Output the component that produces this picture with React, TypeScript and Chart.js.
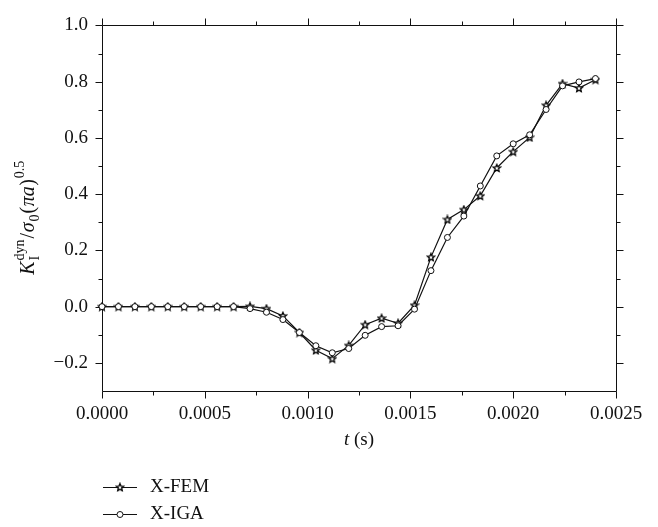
import React, { useEffect, useRef } from 'react';
import { Chart, registerables } from 'chart.js';
Chart.register(...registerables);

const times = [0, 0.00008, 0.00016, 0.00024, 0.00032, 0.0004, 0.00048, 0.00056, 0.00064, 0.00072, 0.0008, 0.00088, 0.00096, 0.00104, 0.00112, 0.0012, 0.00128, 0.00136, 0.00144, 0.00152, 0.0016, 0.00168, 0.00176, 0.00184, 0.00192, 0.002, 0.00208, 0.00216, 0.00224, 0.00232, 0.0024];
const xfem = [0, 0, 0, 0, 0, 0, 0, 0, 0, 0.001, -0.007, -0.033, -0.092, -0.155, -0.185, -0.138, -0.064, -0.041, -0.059, 0.005, 0.176, 0.31, 0.345, 0.394, 0.493, 0.551, 0.602, 0.716, 0.793, 0.777, 0.807];
const xiga = [0, 0, 0, 0, 0, 0, 0, 0, 0, -0.007, -0.02, -0.046, -0.092, -0.139, -0.164, -0.149, -0.102, -0.071, -0.068, -0.009, 0.128, 0.246, 0.322, 0.429, 0.536, 0.579, 0.611, 0.701, 0.785, 0.799, 0.811];
const seriesNames = ['X-FEM', 'X-IGA'];
const xMajorTicks = [0, 0.0005, 0.001, 0.0015, 0.002, 0.0025];
const xMinorTicks = [0.00025, 0.00075, 0.00125, 0.00175, 0.00225];
const yMajorTicks = [-0.2, 0, 0.2, 0.4, 0.6, 0.8, 1.0];
const yMinorTicks = [-0.1, 0.1, 0.3, 0.5, 0.7, 0.9];

const FONT = "'Liberation Serif', 'DejaVu Serif', serif";
const INK = '#111111';

function makeStar(): HTMLCanvasElement {
  const c = document.createElement('canvas');
  c.width = 10; c.height = 10;
  const g = c.getContext('2d')!;
  g.beginPath();
  for (let i = 0; i < 10; i++) {
    const r = i % 2 === 0 ? 3.9 : 1.8;
    const a = -Math.PI / 2 + (i * Math.PI) / 5;
    const px = 5 + r * Math.cos(a);
    const py = 5.3 + r * Math.sin(a);
    if (i === 0) g.moveTo(px, py); else g.lineTo(px, py);
  }
  g.closePath();
  g.fillStyle = '#ffffff';
  g.fill();
  g.strokeStyle = '#000000';
  g.lineWidth = 1.3;
  g.stroke();
  return c;
}

function drawYTitle(ctx: CanvasRenderingContext2D, cx: number, cy: number) {
  const big = 20, small = 14;
  const f = (it: boolean, s: number) => `${it ? 'italic ' : ''}${s}px ${FONT}`;
  type P = { t?: string; it?: boolean; sub?: string; sup?: string };
  const parts: P[] = [
    { t: 'K', it: true },
    { sub: 'I', sup: 'dyn' },
    { t: '/' },
    { t: '\u03C3', it: true },
    { sub: '0' },
    { t: '(' },
    { t: '\u03C0a', it: true },
    { t: ')' },
    { sup: '0.5' },
  ];
  ctx.save();
  const widths = parts.map((p) => {
    if (p.t) { ctx.font = f(!!p.it, big); return ctx.measureText(p.t).width + 0.5; }
    ctx.font = f(false, small);
    const a = p.sub ? ctx.measureText(p.sub).width : 0;
    const b = p.sup ? ctx.measureText(p.sup).width : 0;
    return Math.max(a, b) + 1.5;
  });
  const total = widths.reduce((s, w) => s + w, 0);
  ctx.translate(cx, cy);
  ctx.rotate(-Math.PI / 2);
  ctx.fillStyle = INK;
  ctx.textBaseline = 'alphabetic';
  ctx.textAlign = 'left';
  let x = -total / 2;
  parts.forEach((p, i) => {
    if (p.t) { ctx.font = f(!!p.it, big); ctx.fillText(p.t, x, 0); }
    else {
      ctx.font = f(false, small);
      if (p.sub) ctx.fillText(p.sub, x + 0.5, 5);
      if (p.sup) ctx.fillText(p.sup, x + 0.5, -10);
    }
    x += widths[i];
  });
  ctx.restore();
}

export default function App() {
  const ref = useRef<HTMLCanvasElement | null>(null);
  useEffect(() => {
    document.body.style.margin = '0';
    const star = makeStar();
    const framePlugin = {
      id: 'frame',
      beforeDatasetsDraw(chart: any) {
        const { ctx, chartArea, scales } = chart;
        const xs = scales.x, ys = scales.y;
        const L = Math.round(chartArea.left) + 0.5;
        const R = Math.round(chartArea.right) + 0.5;
        const T = Math.round(chartArea.top) + 0.5;
        const B = Math.round(chartArea.bottom) + 0.5;
        ctx.save();
        ctx.strokeStyle = INK;
        ctx.lineWidth = 1;
        ctx.beginPath();
        ctx.rect(L, T, R - L, B - T);
        const major = 7, minor = 4;
        const xt = (v: number, len: number) => {
          const px = Math.round(xs.getPixelForValue(v)) + 0.5;
          ctx.moveTo(px, B); ctx.lineTo(px, B + len);
          ctx.moveTo(px, T); ctx.lineTo(px, T - len);
        };
        const yt = (v: number, len: number) => {
          const py = Math.round(ys.getPixelForValue(v)) + 0.5;
          ctx.moveTo(L, py); ctx.lineTo(L - len, py);
          ctx.moveTo(R, py); ctx.lineTo(R + len, py);
        };
        xMajorTicks.forEach((v) => xt(v, major));
        xMinorTicks.forEach((v) => xt(v, minor));
        yMajorTicks.forEach((v) => yt(v, major));
        yMinorTicks.forEach((v) => yt(v, minor));
        ctx.stroke();
        ctx.restore();
      },
      afterDraw(chart: any) {
        const { ctx, chartArea } = chart;
        ctx.save();
        ctx.fillStyle = INK;
        ctx.textBaseline = 'alphabetic';
        ctx.font = `italic 19px ${FONT}`;
        const tW = ctx.measureText('t').width;
        ctx.font = `19px ${FONT}`;
        const sW = ctx.measureText(' (s)').width;
        const cx = (chartArea.left + chartArea.right) / 2;
        const x0 = cx - (tW + sW) / 2;
        ctx.font = `italic 19px ${FONT}`;
        ctx.fillText('t', x0, 445);
        ctx.font = `19px ${FONT}`;
        ctx.fillText(' (s)', x0 + tW, 445);
        ctx.restore();
        drawYTitle(ctx, 34, (chartArea.top + chartArea.bottom) / 2 + 9);
        const rows = [487, 514];
        chart.data.datasets.forEach((ds: any, i: number) => {
          const y = rows[i] + 0.5;
          ctx.save();
          ctx.strokeStyle = ds.borderColor;
          ctx.lineWidth = ds.borderWidth;
          ctx.beginPath();
          ctx.moveTo(103, y); ctx.lineTo(137, y);
          ctx.stroke();
          if (ds.pointStyle === 'circle') {
            ctx.beginPath();
            ctx.arc(120, y, ds.pointRadius, 0, Math.PI * 2);
            ctx.fillStyle = ds.pointBackgroundColor;
            ctx.fill();
            ctx.lineWidth = ds.pointBorderWidth;
            ctx.strokeStyle = ds.pointBorderColor;
            ctx.stroke();
          } else {
            ctx.drawImage(ds.pointStyle, 120 - 5, y - 5.3);
          }
          ctx.fillStyle = INK;
          ctx.font = `19px ${FONT}`;
          ctx.textBaseline = 'middle';
          ctx.textAlign = 'left';
          ctx.fillText(ds.label, 150, y);
          ctx.restore();
        });
      },
    };

    const chart = new Chart(ref.current!, {
      type: 'line',
      data: {
        datasets: [
          {
            label: seriesNames[0],
            data: times.map((t, i) => ({ x: t, y: xfem[i] })),
            borderColor: INK,
            borderWidth: 1.2,
            pointStyle: star as any,
            pointRadius: 4,
            pointBackgroundColor: '#ffffff',
            pointBorderColor: INK,
            pointBorderWidth: 1,
            order: 1,
            clip: false as any,
          },
          {
            label: seriesNames[1],
            data: times.map((t, i) => ({ x: t, y: xiga[i] })),
            borderColor: INK,
            borderWidth: 1.2,
            pointStyle: 'circle',
            pointRadius: 3,
            pointBackgroundColor: '#ffffff',
            pointBorderColor: INK,
            pointBorderWidth: 1,
            order: 0,
            clip: false as any,
          },
        ],
      },
      options: {
        responsive: false,
        animation: false,
        events: [],
        layout: { padding: { top: 13, right: 42, bottom: 0, left: 0 } },
        plugins: { legend: { display: false }, tooltip: { enabled: false } },
        scales: {
          x: {
            type: 'linear',
            min: 0,
            max: 0.0025,
            afterFit: (s: any) => { s.height = 136; },
            afterBuildTicks: (s: any) => { s.ticks = xMajorTicks.map((v) => ({ value: v })); },
            grid: { display: false, drawTicks: false },
            border: { display: false },
            ticks: {
              padding: 12,
              color: INK,
              font: { family: FONT, size: 19 },
              maxRotation: 0,
              autoSkip: false,
              callback: (v: any) => Number(v).toFixed(4),
            },
          },
          y: {
            type: 'linear',
            min: -0.3,
            max: 1.0,
            afterFit: (s: any) => { s.width = 102; },
            afterBuildTicks: (s: any) => { s.ticks = yMajorTicks.map((v) => ({ value: v })); },
            grid: { display: false, drawTicks: false },
            border: { display: false },
            ticks: {
              padding: 14,
              color: INK,
              font: { family: FONT, size: 19 },
              autoSkip: false,
              callback: (v: any) => {
                const n = Number(v);
                return (n < 0 ? '\u2212' : '') + Math.abs(n).toFixed(1);
              },
            },
          },
        },
      },
      plugins: [framePlugin],
    });
    return () => chart.destroy();
  }, []);
  return (
    <div style={{ width: 658, height: 527 }}>
      <canvas ref={ref} width={658} height={527} style={{ display: 'block' }} />
    </div>
  );
}
